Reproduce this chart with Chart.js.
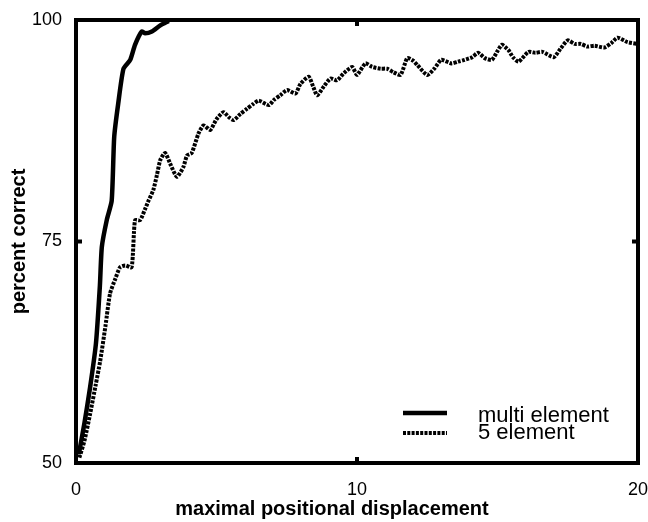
<!DOCTYPE html>
<html>
<head>
<meta charset="utf-8">
<script src="https://cdn.jsdelivr.net/npm/chart.js@4"></script>
<style>
  html, body { margin: 0; padding: 0; background: #fff; }
  #wrap { width: 648px; height: 522px; }
</style>
</head>
<body>
<div id="wrap"><canvas id="chart" width="648" height="522"></canvas></div>
<script>
// values
const multiX = [0.1, 0.3, 0.5, 0.71, 0.85, 0.92, 1.1, 1.27, 1.36, 1.5, 1.69, 1.93, 2.1, 2.34, 2.46, 2.7, 3.0, 3.3];
const multiY = [51.0, 54.5, 58.5, 63.5, 70.0, 74.4, 77.5, 79.6, 86.8, 90.5, 94.5, 95.5, 97.2, 98.7, 98.5, 98.7, 99.4, 99.9];

const fiveX = [0.12, 0.3, 0.5, 0.7, 0.86, 1.05, 1.21, 1.4, 1.57, 1.75, 1.98, 2.1, 2.28, 2.45, 2.58, 2.75, 2.88, 3.0,
  3.17, 3.35, 3.59, 3.82, 3.95, 4.12, 4.36, 4.54, 4.78, 5.0, 5.25, 5.45, 5.61, 5.85, 6.09, 6.3, 6.5, 6.86, 7.05,
  7.27, 7.51, 7.81, 7.99, 8.28, 8.45, 8.58, 8.82, 9.06, 9.29, 9.53, 9.83, 10.0, 10.3, 10.54, 10.84, 11.07, 11.3,
  11.55, 11.79, 12.0, 12.15, 12.5, 12.75, 13.0, 13.36, 13.6, 13.83, 14.1, 14.31, 14.55, 14.8, 15.0, 15.16, 15.39,
  15.55, 15.75, 16.1, 16.35, 16.6, 17.0, 17.25, 17.5, 17.75, 17.97, 18.2, 18.45, 18.8, 19.05, 19.27, 19.63, 20.0];
const fiveY = [50.6, 52.5, 55.5, 58.8, 61.5, 65.5, 69.1, 70.8, 72.1, 72.3, 72.1, 77.4, 77.4, 78.6, 79.6, 80.8, 82.5, 84.2,
  85.0, 83.8, 82.3, 83.4, 84.7, 85.0, 87.2, 88.1, 87.6, 88.8, 89.6, 89.0, 88.7, 89.4, 90.0, 90.5, 90.9, 90.4, 91.0,
  91.5, 92.1, 91.7, 92.8, 93.6, 92.4, 91.5, 92.5, 93.4, 93.2, 94.0, 94.7, 93.8, 95.1, 94.7, 94.5, 94.5, 94.1,
  93.8, 95.7, 95.4, 94.9, 93.8, 94.5, 95.5, 95.1, 95.3, 95.5, 95.8, 96.3, 95.7, 95.5, 96.5, 97.2, 96.6,
  95.8, 95.3, 96.4, 96.3, 96.4, 95.8, 96.8, 97.7, 97.3, 97.3, 97.0, 97.1, 96.9, 97.4, 98.0, 97.5, 97.3];

const xTicks = [0, 10, 20];
const yTicks = [50, 75, 100];
const seriesNames = ['multi element', '5 element'];
const xTitle = 'maximal positional displacement';
const yTitle = 'percent correct';

const FONT = '"Liberation Sans", Arial, Helvetica, sans-serif';
const DASH = [3, 1.3];

function toPoints(xs, ys) {
    return xs.map((x, i) => ({ x: x, y: ys[i] }));
}

// frame with inward ticks, in-plot legend and x title
const framePlugin = {
    id: 'frame',
    afterDraw(chart) {
        const ctx = chart.ctx;
        const a = chart.chartArea;
        const xs = chart.scales.x, ys = chart.scales.y;
        ctx.save();
        ctx.strokeStyle = '#000';
        ctx.lineWidth = 4;
        ctx.setLineDash([]);
        ctx.strokeRect(a.left, a.top, a.right - a.left, a.bottom - a.top);

        const tl = 6;
        ctx.beginPath();
        xTicks.forEach(v => {
            const px = xs.getPixelForValue(v);
            ctx.moveTo(px, a.bottom); ctx.lineTo(px, a.bottom - tl);
            ctx.moveTo(px, a.top); ctx.lineTo(px, a.top + tl);
        });
        yTicks.forEach(v => {
            const py = ys.getPixelForValue(v);
            ctx.moveTo(a.left, py); ctx.lineTo(a.left + tl, py);
            ctx.moveTo(a.right, py); ctx.lineTo(a.right - tl, py);
        });
        ctx.stroke();

        // legend
        ctx.beginPath();
        ctx.lineWidth = 4.5;
        ctx.moveTo(403, 413); ctx.lineTo(447, 413);
        ctx.stroke();
        ctx.beginPath();
        ctx.lineWidth = 4;
        ctx.setLineDash(DASH);
        ctx.moveTo(403, 433); ctx.lineTo(447, 433);
        ctx.stroke();
        ctx.setLineDash([]);
        ctx.fillStyle = '#000';
        ctx.font = '22px ' + FONT;
        ctx.textAlign = 'left';
        ctx.textBaseline = 'alphabetic';
        ctx.fillText(seriesNames[0], 478, 422);
        ctx.fillText(seriesNames[1], 478, 439);

        // x title
        ctx.font = 'bold 20px ' + FONT;
        ctx.textAlign = 'center';
        ctx.textBaseline = 'middle';
        ctx.fillText(xTitle, 332, 509);
        ctx.restore();
    }
};

new Chart(document.getElementById('chart'), {
    type: 'line',
    data: {
        datasets: [
            {
                label: seriesNames[0],
                data: toPoints(multiX, multiY),
                borderColor: '#000',
                borderWidth: 4.5,
                pointRadius: 0,
                tension: 0.2,
                fill: false
            },
            {
                label: seriesNames[1],
                data: toPoints(fiveX, fiveY),
                borderColor: '#000',
                borderWidth: 4,
                borderDash: DASH,
                pointRadius: 0,
                tension: 0.2,
                fill: false
            }
        ]
    },
    options: {
        responsive: false,
        animation: false,
        layout: { padding: { left: 0, top: 20, right: 10, bottom: 0 } },
        plugins: { legend: { display: false }, tooltip: { enabled: false } },
        scales: {
            x: {
                type: 'linear',
                min: 0, max: 20,
                afterBuildTicks: s => { s.ticks = xTicks.map(v => ({ value: v })); },
                afterFit: s => { s.height = 59; s.paddingLeft = 0; s.paddingRight = 0; },
                grid: { display: false, drawTicks: false },
                border: { display: false },
                ticks: { color: '#000', padding: 16, font: { family: FONT, size: 18 }, maxRotation: 0 }
            },
            y: {
                type: 'linear',
                min: 50, max: 100,
                afterBuildTicks: s => { s.ticks = yTicks.map(v => ({ value: v })); },
                afterFit: s => { s.width = 76; s.paddingTop = 0; s.paddingBottom = 0; },
                grid: { display: false, drawTicks: false },
                border: { display: false },
                ticks: { color: '#000', padding: 14, font: { family: FONT, size: 18 } },
                title: {
                    display: true,
                    text: yTitle,
                    color: '#000',
                    padding: { top: 7, bottom: 0 },
                    font: { family: FONT, size: 20, weight: 'bold' }
                }
            }
        }
    },
    plugins: [framePlugin]
});
</script>
</body>
</html>
